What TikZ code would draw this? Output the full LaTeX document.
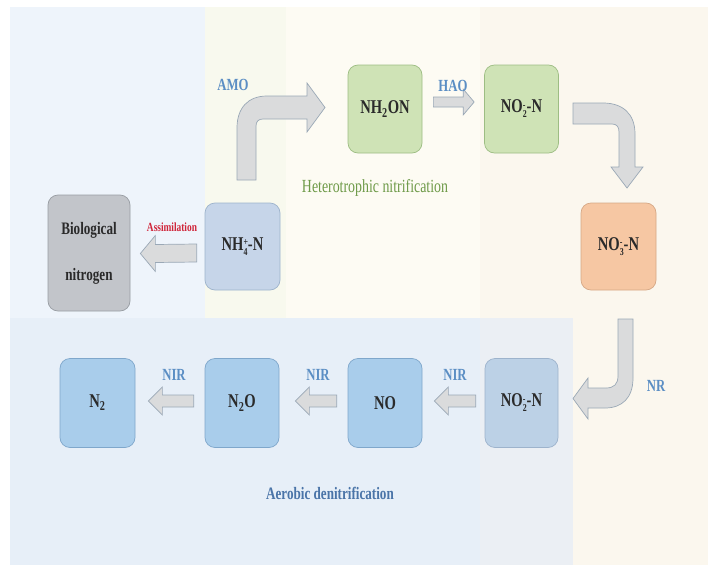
\documentclass[tikz,border=0pt]{standalone}
\usepackage{fontspec}
\setmainfont{Liberation Serif}[FakeStretch=0.75]
\usetikzlibrary{calc}
\definecolor{bgblue}{HTML}{EEF4FB}
\definecolor{bggreen}{HTML}{F8F9EE}
\definecolor{bgcream}{HTML}{FDFBF3}
\definecolor{bgbeige}{HTML}{FBF7EE}
\definecolor{bandblue}{HTML}{E7EFF8}
\definecolor{bandgray}{HTML}{EBEFF4}
\definecolor{boxgreen}{HTML}{CFE3B6}
\definecolor{edgegreen}{HTML}{9DBD83}
\definecolor{boxorange}{HTML}{F6C7A3}
\definecolor{edgeorange}{HTML}{D6A886}
\definecolor{boxblue}{HTML}{A9CDEB}
\definecolor{edgeblue}{HTML}{7FA7CB}
\definecolor{boxpale}{HTML}{BCD1E6}
\definecolor{boxnh}{HTML}{C6D5E9}
\definecolor{edgenh}{HTML}{9DB3CC}
\definecolor{boxgray}{HTML}{C2C5CA}
\definecolor{edgegray}{HTML}{989DA3}
\definecolor{arrowfill}{HTML}{DADBDC}
\definecolor{arrowedge}{HTML}{9AA8B6}
\definecolor{lblblue}{HTML}{5B8EC4}
\definecolor{lblgreen}{HTML}{6E9A48}
\definecolor{lbldeep}{HTML}{4A74A8}
\definecolor{lblred}{HTML}{D0253A}
\definecolor{txt}{HTML}{2A2A2A}
\newcommand\subsupx[2]{\raisebox{-5pt}{\fontsize{10.5}{13.5}\selectfont\shortstack[l]{#2\\#1}}}
\begin{document}
\begin{tikzpicture}[x=1pt,y=-1pt,
  chem/.style={draw, rounded corners=10pt, line width=0.7pt, minimum width=74pt,
    minimum height=88pt, font=\fontsize{19.5}{22}\selectfont\bfseries, text=txt, inner sep=0pt},
  blockarrow/.style={fill=arrowfill, draw=arrowedge, line width=0.7pt, line join=miter},
  enz/.style={font=\fontsize{17}{19}\selectfont\bfseries, text=lblblue, inner sep=0pt}]
\useasboundingbox (0,0) rectangle (712,570);
\fill[white] (0,0) rectangle (712,570);
% background panels
\fill[bgblue] (10,7) rectangle (205,318);
\fill[bggreen] (205,7) rectangle (286,318);
\fill[bgcream] (286,7) rectangle (480,318);
\fill[bgbeige] (480,7) rectangle (708,565);
\fill[bandblue] (10,318) rectangle (480,565);
\fill[bandgray] (480,318) rectangle (573,565);
% boxes
\node[chem, fill=boxgray, draw=edgegray, minimum width=82pt, minimum height=116pt,
  font=\fontsize{17.5}{46}\selectfont\bfseries, align=center] (bio) at (89,253) {Biological\\nitrogen};
\node[chem, fill=boxnh, draw=edgenh, minimum width=75pt, minimum height=87pt] (nh4) at (242.5,246.5) {NH\subsupx{4}{+}-N};
\node[chem, fill=boxgreen, draw=edgegreen] (nh2on) at (385,109) {NH\textsubscript{2}ON};
\node[chem, fill=boxgreen, draw=edgegreen] (no2t) at (521.5,109) {NO\subsupx{2}{-}-N};
\node[chem, fill=boxorange, draw=edgeorange, minimum width=75pt, minimum height=87pt] (no3) at (618.5,246.5) {NO\subsupx{3}{-}-N};
\node[chem, fill=boxblue, draw=edgeblue, minimum width=75pt, minimum height=89pt] (n2) at (97.5,403) {N\textsubscript{2}};
\node[chem, fill=boxblue, draw=edgeblue, minimum width=74pt, minimum height=89pt] (n2o) at (242,403) {N\textsubscript{2}O};
\node[chem, fill=boxblue, draw=edgeblue, minimum width=74pt, minimum height=89pt] (no) at (385,403) {NO};
\node[chem, fill=boxpale, draw=edgenh, minimum width=73pt, minimum height=89pt] (no2b) at (521.5,403) {NO\subsupx{2}{-}-N};
% straight block arrows (left pointing): start at right, tip at left
\newcommand\blockleft[5]{% #1 start, #2 tip, #3 shaft half, #4 head half, #5 head length
  \draw[blockarrow] ($(#1)+(0,-#3)$) -- ($(#2)+(#5,-#3)$) -- ($(#2)+(#5,-#4)$) -- (#2)
    -- ($(#2)+(#5,#4)$) -- ($(#2)+(#5,#3)$) -- ($(#1)+(0,#3)$) -- cycle;}
\coordinate (asS) at ($(nh4.west)+(-8,6.5)$);
\coordinate (asT) at ($(bio.east)+(10,0.5)$);
\blockleft{asS}{asT}{9}{18}{15}
\coordinate (r1S) at ($(n2o.west)+(-11,-2)$);
\coordinate (r1T) at ($(n2.east)+(13,-2)$);
\blockleft{r1S}{r1T}{6}{14}{14}
\coordinate (r2S) at ($(no.west)+(-11,-2)$);
\coordinate (r2T) at ($(n2o.east)+(16,-2)$);
\blockleft{r2S}{r2T}{6}{14}{14}
\coordinate (r3S) at ($(no2b.west)+(-9,-2)$);
\coordinate (r3T) at ($(no.east)+(12,-2)$);
\blockleft{r3S}{r3T}{6}{14}{14}
% HAO arrow (right pointing)
\coordinate (hS) at ($(nh2on.east)+(11,-7)$);
\coordinate (hT) at ($(no2t.west)+(-10,-7)$);
\draw[blockarrow] ($(hS)+(0,-5)$) -- ($(hT)+(-11,-5)$) -- ($(hT)+(-11,-13)$) -- (hT)
  -- ($(hT)+(-11,13)$) -- ($(hT)+(-11,5)$) -- ($(hS)+(0,5)$) -- cycle;
% AMO bent arrow
\draw[blockarrow] (237,180) -- (237,128) .. controls (237,108) and (248,96) .. (267,96)
  -- (307,96) -- (307,83) -- (325,107.5) -- (307,132) -- (307,119) -- (263,119)
  .. controls (258.5,119) and (256,121.5) .. (256,126) -- (256,180) -- cycle;
% NO2- to NO3- bent arrow
\draw[blockarrow] (573,103) -- (603,103) .. controls (623,103) and (635,114) .. (635,134)
  -- (635,167) -- (643,167) -- (627,188) -- (611,167) -- (619,167) -- (619,132)
  .. controls (619,127) and (617,124) .. (612,124) -- (573,124) -- cycle;
% NR bent arrow
\draw[blockarrow] (618,319) -- (633,319) -- (633,378) .. controls (633,398) and (622,408) .. (605,408)
  -- (588,408) -- (588,419) -- (573,398.5) -- (588,378) -- (588,388) -- (606,388)
  .. controls (614,388) and (618,384) .. (618,376) -- cycle;
% labels
\node[enz] (amo) at (233,85) {AMO};
\node[enz] (hao) at (453,86) {HAO};
\node[enz] (nir1) at (174,375) {NIR};
\node[enz] (nir2) at (318,375) {NIR};
\node[enz] (nir3) at (455,375) {NIR};
\node[enz] (nr) at (656,386) {NR};
\node[font=\fontsize{12.5}{14}\selectfont\bfseries, text=lblred, inner sep=0pt] (assim) at (172,227) {Assimilation};
\node[font=\fontsize{18.5}{20}\selectfont, text=lblgreen, inner sep=0pt] (het) at (375,188) {Heterotrophic nitrification};
\node[font=\fontsize{17.5}{20}\selectfont\bfseries, text=lbldeep, inner sep=0pt] (aer) at (330,493) {Aerobic denitrification};
\end{tikzpicture}
\end{document}
